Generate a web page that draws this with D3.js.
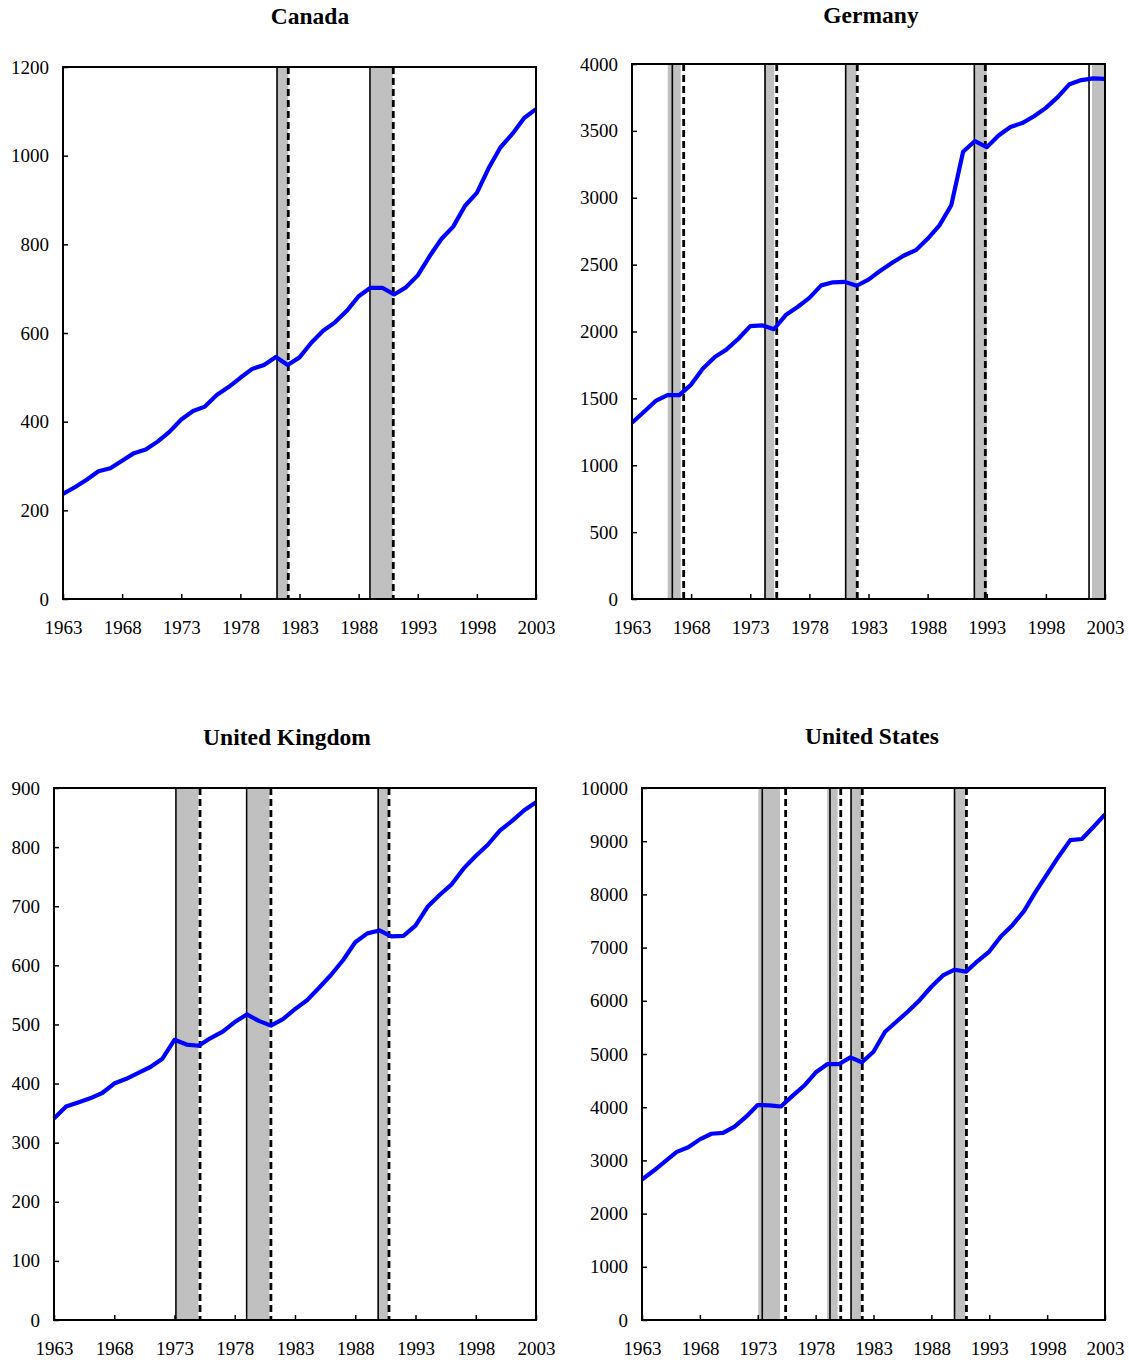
<!DOCTYPE html>
<html>
<head>
<meta charset="utf-8">
<script src="https://cdn.jsdelivr.net/npm/d3@7/dist/d3.min.js"></script>
<style>
  html, body { margin: 0; padding: 0; background: #fff; }
  svg { display: block; }
  text { font-family: "Liberation Serif", "Times New Roman", serif; fill: #000; }
</style>
</head>
<body>
<svg id="chart" width="1129" height="1363"></svg>
<script>
// Annual series, 1963-2003
const years = d3.range(1963, 2004);
const yearTicks = [1963, 1968, 1973, 1978, 1983, 1988, 1993, 1998, 2003];

const canadaValues = [237, 252, 269, 288, 295, 312, 329, 337, 355, 377, 405, 424, 434, 460, 478, 499, 519, 528, 546, 528,
  545, 578, 605, 624, 650, 683, 702, 702, 687, 703, 730, 773, 812, 840, 887, 916, 972, 1019, 1049, 1085, 1105];
const germanyValues = [1318, 1398, 1481, 1524, 1524, 1603, 1723, 1809, 1866, 1946, 2040, 2046, 2017, 2123, 2183, 2251, 2345, 2368, 2371, 2342,
  2388, 2454, 2514, 2568, 2608, 2693, 2793, 2944, 3344, 3424, 3378, 3466, 3529, 3558, 3609, 3672, 3752, 3849, 3880, 3892, 3889];
const ukValues = [341, 361, 368, 375, 384, 400, 408, 418, 428, 442, 474, 466, 464, 477, 488, 504, 517, 506, 498, 509,
  526, 541, 562, 584, 609, 639, 654, 659, 649, 650, 667, 699, 719, 737, 764, 785, 804, 828, 844, 862, 876];
const usValues = [2642, 2805, 2983, 3160, 3246, 3395, 3501, 3516, 3636, 3821, 4041, 4034, 4013, 4212, 4403, 4652, 4808, 4808, 4936, 4844,
  5043, 5419, 5611, 5803, 6016, 6264, 6477, 6584, 6548, 6747, 6925, 7209, 7422, 7685, 8047, 8381, 8714, 9020, 9041, 9268, 9503];

// y-axis tick values
const canadaTicks = [0, 200, 400, 600, 800, 1000, 1200];
const germanyTicks = [0, 500, 1000, 1500, 2000, 2500, 3000, 3500, 4000];
const ukTicks = [0, 100, 200, 300, 400, 500, 600, 700, 800, 900];
const usTicks = [0, 1000, 2000, 3000, 4000, 5000, 6000, 7000, 8000, 9000, 10000];

// Recession episodes: shaded span, peak (solid rule) and trough (dashed rule), in fractional years
const canadaRecessions = [
  { from: 1981.1, to: 1982.05, peak: 1981.1, trough: 1982.05 },
  { from: 1989.02, to: 1990.88, peak: 1988.96, trough: 1990.93 }
];
const germanyRecessions = [
  { from: 1966.02, to: 1967.12, peak: 1966.41, trough: 1967.37 },
  { from: 1974.19, to: 1975.03, peak: 1974.25, trough: 1975.24 },
  { from: 1981.01, to: 1982.0, peak: 1981.07, trough: 1982.05 },
  { from: 1991.95, to: 1993.0, peak: 1991.95, trough: 1992.88 },
  { from: 2001.9, to: 2003.0, peak: 2001.65, trough: null }
];
const ukRecessions = [
  { from: 1973.18, to: 1974.98, peak: 1973.12, trough: 1975.12 },
  { from: 1979.07, to: 1980.87, peak: 1978.99, trough: 1981.0 },
  { from: 1989.9, to: 1990.74, peak: 1989.9, trough: 1990.8 }
];
const usRecessions = [
  { from: 1973.05, to: 1974.92, peak: 1973.39, trough: 1975.41 },
  { from: 1979.0, to: 1979.9, peak: 1979.24, trough: 1980.17 },
  { from: 1981.06, to: 1981.92, peak: 1981.06, trough: 1982.03 },
  { from: 1990.0, to: 1990.94, peak: 1990.0, trough: 1991.03 }
];

const titles = ["Canada", "Germany", "United Kingdom", "United States"];

// Panel placement on the page
const panels = [
  { title: titles[0], values: canadaValues, ticks: canadaTicks, rec: canadaRecessions,
    box: { left: 63, right: 536, top: 67, bottom: 599 }, titleX: 310, titleY: 24 },
  { title: titles[1], values: germanyValues, ticks: germanyTicks, rec: germanyRecessions,
    box: { left: 632, right: 1105, top: 64, bottom: 599 }, titleX: 871, titleY: 23 },
  { title: titles[2], values: ukValues, ticks: ukTicks, rec: ukRecessions,
    box: { left: 54, right: 536, top: 788, bottom: 1320 }, titleX: 287, titleY: 745 },
  { title: titles[3], values: usValues, ticks: usTicks, rec: usRecessions,
    box: { left: 642, right: 1105, top: 788, bottom: 1320 }, titleX: 872, titleY: 744 }
];

const svg = d3.select("#chart");

panels.forEach(p => {
  const b = p.box;
  const x = d3.scaleLinear().domain([1963, 2003]).range([b.left, b.right]);
  const y = d3.scaleLinear().domain([0, d3.max(p.ticks)]).range([b.bottom, b.top]);
  const g = svg.append("g");

  // title
  g.append("text")
    .attr("x", p.titleX).attr("y", p.titleY)
    .attr("text-anchor", "middle")
    .style("font-size", "23.5px").style("font-weight", "bold")
    .text(p.title);

  // recession shading
  g.selectAll("rect.rec").data(p.rec).join("rect")
    .attr("class", "rec")
    .attr("x", d => x(d.from))
    .attr("width", d => x(d.to) - x(d.from))
    .attr("y", b.top).attr("height", b.bottom - b.top)
    .attr("fill", "#c0c0c0");

  // peak rules
  g.selectAll("line.peak").data(p.rec.filter(d => d.peak != null)).join("line")
    .attr("class", "peak")
    .attr("x1", d => x(d.peak)).attr("x2", d => x(d.peak))
    .attr("y1", b.top).attr("y2", b.bottom)
    .attr("stroke", "#000").attr("stroke-width", 1.6);

  // trough rules
  g.selectAll("line.trough").data(p.rec.filter(d => d.trough != null)).join("line")
    .attr("class", "trough")
    .attr("x1", d => x(d.trough)).attr("x2", d => x(d.trough))
    .attr("y1", b.top).attr("y2", b.bottom)
    .attr("stroke", "#000").attr("stroke-width", 2.8)
    .attr("stroke-dasharray", "7,4");

  // series line
  const line = d3.line().x((d, i) => x(years[i])).y(d => y(d));
  g.append("path")
    .datum(p.values)
    .attr("d", line)
    .attr("fill", "none")
    .attr("stroke", "#0000ff")
    .attr("stroke-width", 4.2)
    .attr("stroke-linejoin", "round");

  // x axis: inner ticks, labels below
  const xAxis = d3.axisBottom(x).tickValues(yearTicks).tickFormat(d3.format("d"))
    .tickSizeInner(-5).tickSizeOuter(0).tickPadding(22);
  const gx = g.append("g").attr("transform", `translate(0,${b.bottom})`).call(xAxis);
  gx.select(".domain").remove();
  gx.selectAll(".tick line").attr("stroke", "#000").attr("stroke-width", 1.5);
  gx.selectAll(".tick text").style("font-size", "19px").attr("fill", "#000");

  // y axis: inner ticks, labels left
  const yAxis = d3.axisLeft(y).tickValues(p.ticks).tickFormat(d3.format("d"))
    .tickSizeInner(-5).tickSizeOuter(0).tickPadding(14);
  const gy = g.append("g").attr("transform", `translate(${b.left},0)`).call(yAxis);
  gy.select(".domain").remove();
  gy.selectAll(".tick line").attr("stroke", "#000").attr("stroke-width", 1.5);
  gy.selectAll(".tick text").style("font-size", "19px").attr("fill", "#000");

  // plot frame
  g.append("rect")
    .attr("x", b.left).attr("y", b.top)
    .attr("width", b.right - b.left).attr("height", b.bottom - b.top)
    .attr("fill", "none").attr("stroke", "#000").attr("stroke-width", 2);
});
</script>
</body>
</html>
